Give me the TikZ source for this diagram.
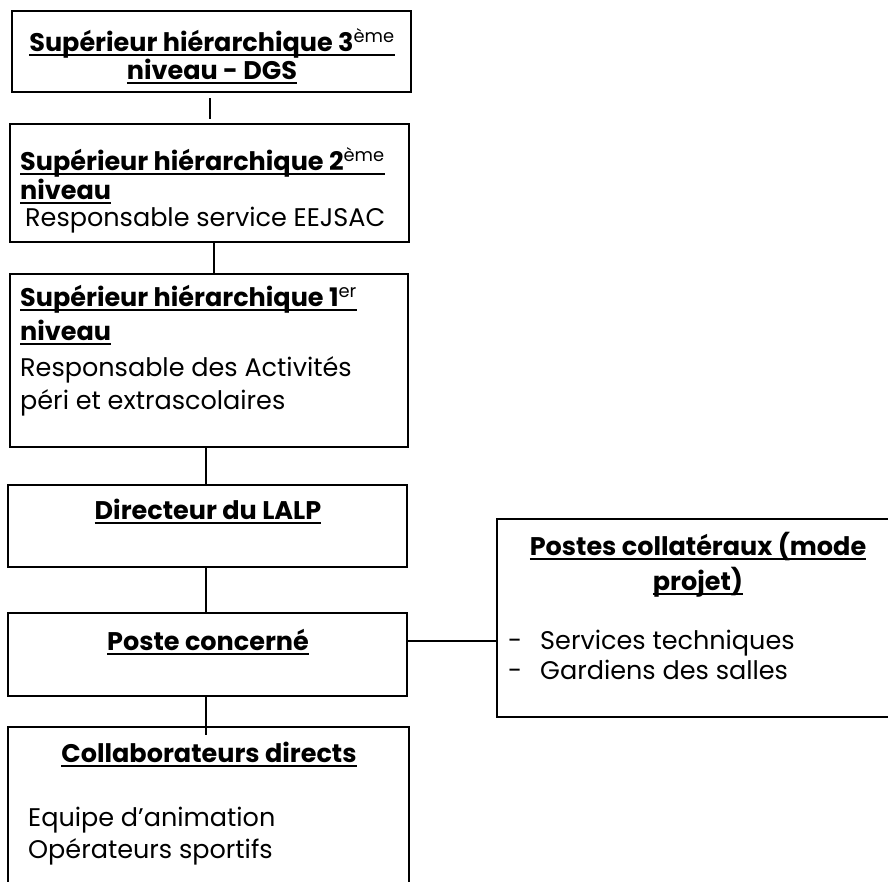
\documentclass[tikz,border=0pt]{standalone}
\usepackage{fontspec}
\setmainfont{Poppins}
\newcommand\hd[1]{\begingroup\setbox0\hbox{\bfseries #1}\leavevmode\rlap{\rule[-4.5pt]{\wd0}{2pt}}\box0\endgroup}
\newcommand\sups[1]{\textsuperscript{\mdseries #1}}
\tikzset{
  box/.style={draw=black, line width=2.4pt, minimum width=#1, inner sep=0pt, rectangle},
  openbox/.style={draw=none, minimum width=#1, inner sep=0pt, rectangle},
  conn/.style={draw=black, line width=1.6pt},
  txt/.style={inner sep=0pt, font=\fontsize{25.5}{30}\selectfont, text=black},
}
\begin{document}
\begin{tikzpicture}[x=1pt, y=-1pt]
\useasboundingbox (0,0) rectangle (888,881);
\fill[white] (0,0) rectangle (888,881);
% boxes
\node[box=399pt, minimum height=81pt] (b1) at (211.5,51.5) {};
\node[box=399pt, minimum height=118pt] (b2) at (209.5,183) {};
\node[box=398pt, minimum height=173pt] (b3) at (209,360.5) {};
\node[box=399pt, minimum height=82pt] (b4) at (207.5,526) {};
\node[box=399pt, minimum height=83pt] (b5) at (207.5,654.5) {};
\node[box=395pt, minimum height=198pt] (b6) at (694.5,618) {};
\node[openbox=401pt, minimum height=170pt] (b7) at (208.5,812) {};
\draw[line width=2.4pt] (b7.south west) -- (b7.north west) -- (b7.north east) -- (b7.south east);
% texts
\node[txt, anchor=center] (t1a) at (212,43) {\hd{Supérieur hiérarchique 3\sups{ème}}};
\node[txt, anchor=center] (t1b) at (212,72) {\hd{niveau - DGS}};
\node[txt, anchor=west] (t2a) at (20,162) {\hd{Supérieur hiérarchique 2\sups{ème}}};
\node[txt, anchor=west] (t2b) at (20,192) {\hd{niveau}};
\node[txt, anchor=west] (t2c) at (25,220) {Responsable service EEJSAC};
\node[txt, anchor=west] (t3a) at (20,299) {\hd{Supérieur hiérarchique 1\sups{er}}};
\node[txt, anchor=west] (t3b) at (20,333) {\hd{niveau}};
\node[txt, anchor=west] (t3c) at (20,370) {Responsable des Activités};
\node[txt, anchor=west] (t3d) at (20,403) {péri et extrascolaires};
\node[txt, anchor=center] (t4) at (208,512) {\hd{Directeur du LALP}};
\node[txt, anchor=center] (t5) at (208,642) {\hd{Poste concerné}};
\node[txt, anchor=center] (t6a) at (698,547) {\hd{Postes collatéraux (mode}};
\node[txt, anchor=center] (t6b) at (698,582) {\hd{projet)}};
\node[txt, anchor=west] (t6c) at (508,643) {-\hspace{18pt}Services techniques};
\node[txt, anchor=west] (t6d) at (508,670) {-\hspace{18pt}Gardiens des salles};
\node[txt, anchor=center] (t7a) at (209,755) {\hd{Collaborateurs directs}};
\node[txt, anchor=west] (t7b) at (28,820) {Equipe d’animation};
\node[txt, anchor=west] (t7c) at (28,852) {Opérateurs sportifs};
% connectors
\draw[conn] ([yshift=-5pt,xshift=-1.5pt]b1.south) -- ([yshift=4pt,xshift=0.5pt]b2.north);
\draw[conn] ([xshift=4.5pt]b2.south) -- ([xshift=5pt]b3.north);
\draw[conn] ([xshift=-3pt]b3.south) -- ([xshift=-1.5pt]b4.north);
\draw[conn] ([xshift=-1.5pt]b4.south) -- ([xshift=-1.5pt]b5.north);
\draw[conn] ([xshift=-1.5pt]b5.south) -- ([xshift=-2.5pt,yshift=-8pt]b7.north);
\draw[conn] ([yshift=13.5pt]b5.east) -- ([yshift=13.5pt]b5.east -| b6.west);
\end{tikzpicture}
\end{document}
